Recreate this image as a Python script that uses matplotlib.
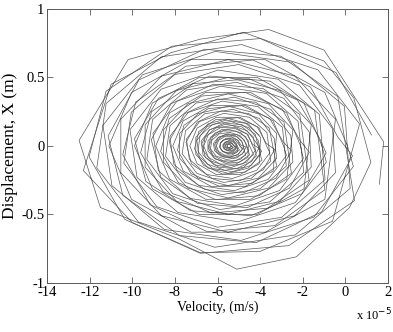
import matplotlib
matplotlib.use('Agg')
import matplotlib.pyplot as plt

# phase trajectory, velocity in units of 1e-5 m/s, displacement in m
# outer loops, inner loops estimated
vel = [1.6, 1.8, -1.0, -3.6, -6.8, -10.2, -12.5, -11.5, -7.8, -5.1, -2.3,
       0.2, 1.2, 0.4, -1.0, -4.8, -8.2, -11.0, -12.3, -10.0, -6.8, -4.0, -0.6,
       0.67, -1.28, -4.87, -8.65, -11.23, -11.67, -9.72, -6.13, -2.35, 0.23,
       -0.04, -2.5, -6.1, -9.52, -11.38, -10.96, -8.5, -4.9, -1.48, 0.38,
       0.1, -0.96, -3.76, -7.24, -10.04, -11.1, -10.04, -7.24, -3.76, -0.96,
       -0.46, -2.37, -5.5, -8.63, -10.54, -10.54, -8.63, -5.5, -2.37, -0.46,
       -0.6, -2.15, -5.0, -8.0, -10.05, -10.4, -8.85, -6.0, -3.0, -0.95,
       -1.22, -3.15, -5.97, -8.65, -10.11, -9.78, -7.85, -5.03, -2.35, -0.89,
       -1.1, -1.94, -4.14, -6.86, -9.06, -9.9, -9.06, -6.86, -4.14, -1.94,
       -1.6, -3.08, -5.5, -7.92, -9.4, -9.4, -7.92, -5.5, -3.08, -1.6,
       -1.68, -2.89, -5.11, -7.45, -9.05, -9.32, -8.11, -5.89, -3.55, -1.95,
       -2.22, -3.7, -5.86, -7.91, -9.03, -8.78, -7.3, -5.14, -3.09, -1.97,
       -2.1, -2.75, -4.45, -6.55, -8.25, -8.9, -8.25, -6.55, -4.45, -2.75,
       -2.46, -3.61, -5.5, -7.39, -8.54, -8.54, -7.39, -5.5, -3.61, -2.46,
       -2.56, -3.49, -5.2, -7.0, -8.23, -8.44, -7.51, -5.8, -4.0, -2.77,
       -2.95, -4.1, -5.78, -7.38, -8.24, -8.05, -6.9, -5.22, -3.62, -2.76,
       -2.9, -3.39, -4.69, -6.31, -7.61, -8.1, -7.61, -6.31, -4.69, -3.39,
       -3.22, -4.08, -5.5, -6.92, -7.78, -7.78, -6.92, -5.5, -4.08, -3.22,
       -3.34, -4.03, -5.28, -6.6, -7.5, -7.66, -6.97, -5.72, -4.4, -3.5,
       -3.68, -4.5, -5.7, -6.84, -7.46, -7.32, -6.5, -5.3, -4.16, -3.54,
       -3.7, -4.04, -4.94, -6.06, -6.96, -7.3, -6.96, -6.06, -4.94, -4.04,
       -3.98, -4.56, -5.5, -6.44, -7.02, -7.02, -6.44, -5.5, -4.56, -3.98,
       -4.08, -4.53, -5.36, -6.23, -6.82, -6.92, -6.47, -5.65, -4.78, -4.18,
       -4.32, -4.85, -5.63, -6.37, -6.77, -6.68, -6.15, -5.37, -4.63, -4.23,
       -4.35, -4.57, -5.14, -5.86, -6.43, -6.65, -6.43, -5.86, -5.14, -4.57,
       -4.55, -4.91, -5.5, -6.09, -6.45, -6.45, -6.09, -5.5, -4.91, -4.55,
       -4.67, -4.93, -5.42, -5.93, -6.27, -6.33, -6.07, -5.59, -5.08, -4.73,
       -4.86, -5.15, -5.57, -5.97, -6.19, -6.14, -5.85, -5.43, -5.03, -4.81,
       -4.95, -5.05, -5.33, -5.67, -5.95, -6.05, -5.95, -5.67, -5.33, -5.05,
       -5.12, -5.26, -5.5, -5.74, -5.88, -5.88, -5.74, -5.5, -5.26, -5.12,
       -5.26, -5.33, -5.48, -5.63, -5.73, -5.75, -5.67, -5.53, -5.38, -5.27,
       -5.39, -5.44, -5.51, -5.58, -5.62, -5.61, -5.56, -5.49, -5.42, -5.38]
disp = [-0.28, 0.03, 0.70, 0.85, 0.78, 0.63, 0.04, -0.45, -0.68, -0.90, -0.81,
        -0.45, -0.12, 0.35, 0.62, 0.83, 0.68, 0.45, -0.18, -0.56, -0.78, -0.77, -0.55,
        0.16, 0.555, 0.74, 0.65, 0.31, -0.16, -0.555, -0.74, -0.65, -0.31,
        0.29, 0.61, 0.69, 0.52, 0.15, -0.29, -0.61, -0.69, -0.52, -0.15,
        0.0, 0.39, 0.63, 0.63, 0.39, 0.0, -0.39, -0.63, -0.63, -0.39,
        0.195, 0.51, 0.63, 0.51, 0.195, -0.195, -0.51, -0.63, -0.51, -0.195,
        0.126, 0.444, 0.594, 0.522, 0.246, -0.126, -0.444, -0.594, -0.522, -0.246,
        0.23, 0.487, 0.554, 0.414, 0.118, -0.23, -0.487, -0.554, -0.414, -0.118,
        0.0, 0.313, 0.50, 0.50, 0.313, 0.0, -0.313, -0.50, -0.50, -0.313,
        0.155, 0.405, 0.5, 0.405, 0.155, -0.155, -0.405, -0.5, -0.405, -0.155,
        0.099, 0.348, 0.465, 0.409, 0.193, -0.099, -0.348, -0.465, -0.409, -0.193,
        0.18, 0.383, 0.436, 0.326, 0.092, -0.18, -0.383, -0.436, -0.326, -0.092,
        0.0, 0.242, 0.39, 0.39, 0.242, 0.0, -0.242, -0.39, -0.39, -0.242,
        0.118, 0.308, 0.38, 0.308, 0.118, -0.118, -0.308, -0.38, -0.308, -0.118,
        0.076, 0.266, 0.356, 0.313, 0.148, -0.076, -0.266, -0.356, -0.313, -0.148,
        0.135, 0.287, 0.327, 0.244, 0.069, -0.135, -0.287, -0.327, -0.244, -0.069,
        0.0, 0.183, 0.295, 0.295, 0.183, 0.0, -0.183, -0.295, -0.295, -0.183,
        0.09, 0.235, 0.29, 0.235, 0.09, -0.09, -0.235, -0.29, -0.235, -0.09,
        0.057, 0.2, 0.267, 0.235, 0.111, -0.057, -0.2, -0.267, -0.235, -0.111,
        0.098, 0.209, 0.238, 0.178, 0.05, -0.098, -0.209, -0.238, -0.178, -0.05,
        0.0, 0.13, 0.209, 0.209, 0.13, 0.0, -0.13, -0.209, -0.209, -0.13,
        0.062, 0.162, 0.2, 0.162, 0.062, -0.062, -0.162, -0.2, -0.162, -0.062,
        0.038, 0.133, 0.178, 0.157, 0.074, -0.038, -0.133, -0.178, -0.157, -0.074,
        0.066, 0.139, 0.158, 0.118, 0.034, -0.066, -0.139, -0.158, -0.118, -0.034,
        0.0, 0.083, 0.133, 0.133, 0.083, 0.0, -0.083, -0.133, -0.133, -0.083,
        0.037, 0.097, 0.12, 0.097, 0.037, -0.037, -0.097, -0.12, -0.097, -0.037,
        0.021, 0.074, 0.099, 0.087, 0.041, -0.021, -0.074, -0.099, -0.087, -0.041,
        0.035, 0.074, 0.084, 0.063, 0.018, -0.035, -0.074, -0.084, -0.063, -0.018,
        0.0, 0.041, 0.067, 0.067, 0.041, 0.0, -0.041, -0.067, -0.067, -0.041,
        0.016, 0.041, 0.05, 0.041, 0.016, -0.016, -0.041, -0.05, -0.041, -0.016,
        0.006, 0.022, 0.03, 0.026, 0.012, -0.006, -0.022, -0.03, -0.026, -0.012,
        0.006, 0.013, 0.015, 0.011, 0.003, -0.006, -0.013, -0.015, -0.011, -0.003]

# second part of the record (loops lying between the first ones)
vel2 = [1.23, -0.44, -3.99, -8.15, -11.23, -12.03, -10.36, -6.81, -2.65, 0.43,
        -0.35, -3.02, -6.62, -9.69, -11.14, -10.45, -7.78, -4.18, -1.11, 0.34,
        -0.35, -1.63, -4.33, -7.49, -9.84, -10.45, -9.17, -6.47, -3.31, -0.96,
        -1.44, -3.53, -6.36, -8.77, -9.9, -9.36, -7.27, -4.44, -2.03, -0.9,
        -1.19, -2.25, -4.51, -7.14, -9.1, -9.61, -8.55, -6.29, -3.66, -1.7,
        -2.14, -3.86, -6.19, -8.18, -9.11, -8.66, -6.94, -4.61, -2.62, -1.69,
        -2.13, -2.96, -4.71, -6.75, -8.27, -8.67, -7.84, -6.09, -4.05, -2.53,
        -2.88, -4.21, -6.01, -7.55, -8.27, -7.92, -6.59, -4.79, -3.25, -2.53,
        -2.92, -3.55, -4.87, -6.43, -7.58, -7.88, -7.25, -5.93, -4.37, -3.22,
        -3.57, -4.54, -5.84, -6.95, -7.48, -7.23, -6.26, -4.96, -3.85, -3.32,
        -3.72, -4.14, -5.04, -6.1, -6.88, -7.08, -6.66, -5.76, -4.7, -3.92,
        -4.23, -4.85, -5.68, -6.4, -6.74, -6.57, -5.95, -5.12, -4.4, -4.06,
        -4.36, -4.62, -5.18, -5.83, -6.31, -6.44, -6.18, -5.62, -4.97, -4.49,
        -4.75, -5.09, -5.56, -5.96, -6.14, -6.05, -5.71, -5.24, -4.84, -4.66,
        -4.9, -5.03, -5.3, -5.6, -5.83, -5.9, -5.77, -5.5, -5.2, -4.97,
        -5.14, -5.28, -5.46, -5.62, -5.7, -5.66, -5.52, -5.34, -5.18, -5.1,
        -5.25, -5.29, -5.37, -5.46, -5.53, -5.55, -5.51, -5.43, -5.34, -5.27]
disp2 = [0.08, 0.536, 0.784, 0.728, 0.40, -0.08, -0.536, -0.784, -0.728, -0.40,
         0.36, 0.655, 0.706, 0.482, 0.072, -0.36, -0.655, -0.706, -0.482, -0.072,
         0.064, 0.429, 0.627, 0.582, 0.32, -0.064, -0.429, -0.627, -0.582, -0.32,
         0.26, 0.473, 0.51, 0.348, 0.052, -0.26, -0.473, -0.51, -0.348, -0.052,
         0.05, 0.335, 0.49, 0.455, 0.25, -0.05, -0.335, -0.49, -0.455, -0.25,
         0.23, 0.419, 0.451, 0.308, 0.046, -0.23, -0.419, -0.451, -0.308, -0.046,
         0.04, 0.268, 0.392, 0.364, 0.2, -0.04, -0.268, -0.392, -0.364, -0.2,
         0.175, 0.319, 0.343, 0.235, 0.035, -0.175, -0.319, -0.343, -0.235, -0.035,
         0.03, 0.201, 0.294, 0.273, 0.15, -0.03, -0.201, -0.294, -0.273, -0.15,
         0.13, 0.237, 0.255, 0.174, 0.026, -0.13, -0.237, -0.255, -0.174, -0.026,
         0.021, 0.141, 0.206, 0.191, 0.105, -0.021, -0.141, -0.206, -0.191, -0.105,
         0.085, 0.155, 0.167, 0.114, 0.017, -0.085, -0.155, -0.167, -0.114, -0.017,
         0.013, 0.087, 0.127, 0.118, 0.065, -0.013, -0.087, -0.127, -0.118, -0.065,
         0.045, 0.082, 0.088, 0.06, 0.009, -0.045, -0.082, -0.088, -0.06, -0.009,
         0.006, 0.04, 0.059, 0.055, 0.03, -0.006, -0.04, -0.059, -0.055, -0.03,
         0.02, 0.036, 0.039, 0.027, 0.004, -0.02, -0.036, -0.039, -0.027, -0.004,
         0.002, 0.013, 0.02, 0.018, 0.01, -0.002, -0.013, -0.02, -0.018, -0.01]

# tail of the record, small loops around the rest point
vel3 = [-4.04, -4.67, -5.61, -6.49, -6.97, -6.86, -6.23, -5.29, -4.41, -3.93,
        -4.22, -4.61, -5.32, -6.08, -6.59, -6.68, -6.29, -5.58, -4.82, -4.31,
        -4.5, -4.68, -5.16, -5.74, -6.22, -6.4, -6.22, -5.74, -5.16, -4.68,
        -4.83, -5.07, -5.45, -5.83, -6.07, -6.07, -5.83, -5.45, -5.07, -4.83,
        -5.01, -5.15, -5.4, -5.67, -5.86, -5.89, -5.75, -5.5, -5.22, -5.04,
        -5.18, -5.3, -5.48, -5.65, -5.74, -5.72, -5.6, -5.42, -5.25, -5.16,
        -5.25, -5.29, -5.39, -5.51, -5.61, -5.65, -5.61, -5.51, -5.39, -5.29,
        -5.36, -5.39, -5.45, -5.51, -5.55, -5.55, -5.51, -5.45, -5.39, -5.36]
disp3 = [0.078, 0.165, 0.188, 0.141, 0.04, -0.078, -0.165, -0.188, -0.141, -0.04,
         0.032, 0.111, 0.149, 0.131, 0.062, -0.032, -0.111, -0.149, -0.131, -0.062,
         0.0, 0.068, 0.109, 0.109, 0.068, 0.0, -0.068, -0.109, -0.109, -0.068,
         0.025, 0.065, 0.08, 0.065, 0.025, -0.025, -0.065, -0.08, -0.065, -0.025,
         0.012, 0.041, 0.054, 0.048, 0.023, -0.012, -0.041, -0.054, -0.048, -0.023,
         0.015, 0.031, 0.036, 0.027, 0.008, -0.015, -0.031, -0.036, -0.027, -0.008,
         0.0, 0.014, 0.023, 0.023, 0.014, 0.0, -0.014, -0.023, -0.023, -0.014,
         0.004, 0.01, 0.012, 0.01, 0.004, -0.004, -0.01, -0.012, -0.01, -0.004]

x_ticks = [-14, -12, -10, -8, -6, -4, -2, 0, 2]
y_ticks = [-1, -0.5, 0, 0.5, 1]
y_tick_labels = ['-1', '-0.5', '0', '0.5', '1']

plt.rcParams['font.family'] = ['Liberation Serif', 'DejaVu Serif']

fig = plt.figure(figsize=(3.93, 3.32), dpi=100)
ax = fig.add_axes([0.12, 0.148, 0.867, 0.825])
for xs, ys in [(vel, disp), (vel2, disp2), (vel3, disp3)]:
    ax.plot(xs, ys, color='0.35', lw=0.5)

ax.set_xlim(-14, 2)
ax.set_ylim(-1, 1)
ax.set_xticks(x_ticks)
ax.set_xticklabels([str(t) for t in x_ticks])
ax.set_yticks(y_ticks)
ax.set_yticklabels(y_tick_labels)
ax.tick_params(direction='in', length=4, width=0.6, top=True, right=True,
               labelsize=10.5, color='0.35', pad=2)
for s in ax.spines.values():
    s.set_color('0.35')
    s.set_linewidth(0.7)

ax.set_xlabel('Velocity, (m/s)', fontsize=10, labelpad=1)
ax.set_ylabel('Displacement, X (m)', fontsize=12.5, labelpad=2)
fig.text(0.905, 0.035, 'x 10$^{-5}$', fontsize=9)

fig.savefig('out.png', dpi=100)
